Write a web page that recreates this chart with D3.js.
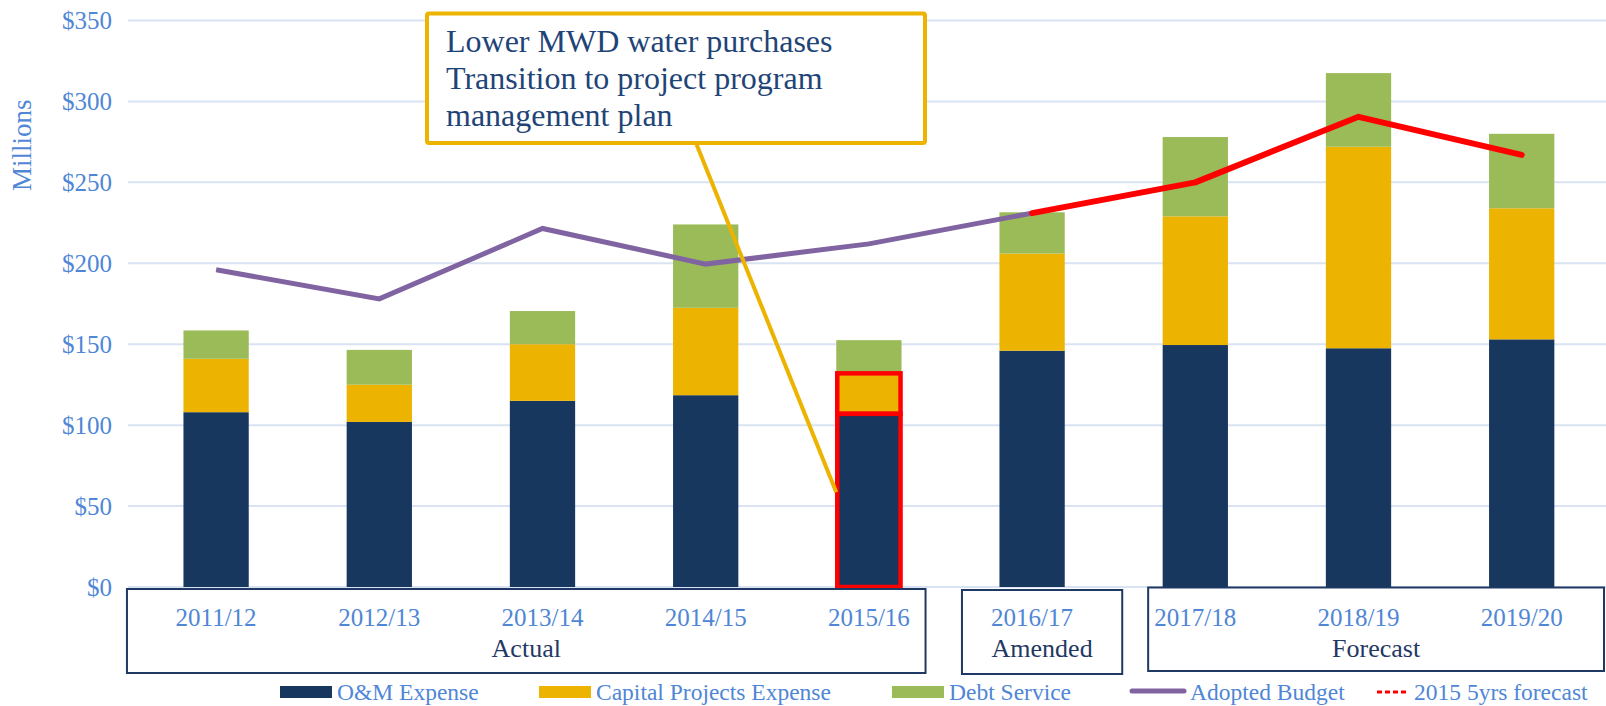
<!DOCTYPE html>
<html>
<head>
<meta charset="utf-8">
<script src="https://cdn.jsdelivr.net/npm/d3@7/dist/d3.min.js"></script>
<style>
  html, body { margin: 0; padding: 0; background: #fff; }
  svg { display: block; font-family: "Liberation Serif", "Times New Roman", serif; }
</style>
</head>
<body>
<svg id="chart" width="1606" height="706"></svg>
<script>
// data ($ millions)
const years = ['2011/12', '2012/13', '2013/14', '2014/15', '2015/16', '2016/17', '2017/18', '2018/19', '2019/20'];
const omExpense = [108, 102, 115, 118.5, 107, 146, 149.5, 147.5, 153];
const capitalExpense = [33, 23, 35, 54, 25, 60, 79.5, 124.5, 81];
const debtService = [17.5, 21.5, 20.5, 51.5, 20.5, 25.5, 49, 45.5, 46];
const adoptedBudget = [196, 178, 221.5, 199.5, 212, 231, null, null, null];
const forecast2015 = [null, null, null, null, null, 231, 250, 290.5, 267];
const yTicks = [0, 50, 100, 150, 200, 250, 300, 350];
const groups = [
    { label: 'Actual', first: 0, last: 4 },
    { label: 'Amended', first: 5, last: 5 },
    { label: 'Forecast', first: 6, last: 8 }
];
const seriesNames = ['O&M Expense', 'Capital Projects Expense', 'Debt Service'];

const colors = {
    om: '#17375e',
    capital: '#ecb400',
    debt: '#9bbb59',
    budget: '#8064a2',
    forecast: '#ff0000',
    tick: '#4f86d6',
    grid: '#d9e3f3',
    navy: '#1f3864'
};

const svg = d3.select('#chart');

const x = d3.scaleBand().domain(years).range([134.5, 1603.3]).paddingInner(0.6).paddingOuter(0.3);
const y = d3.scaleLinear().domain([0, 350]).range([587, 20.5]);

// gridlines + tick labels
svg.append('g').selectAll('line').data(yTicks).join('line')
    .attr('x1', 128).attr('x2', 1606)
    .attr('y1', d => y(d)).attr('y2', d => y(d))
    .attr('stroke', colors.grid).attr('stroke-width', 2);

svg.append('g').selectAll('text').data(yTicks).join('text')
    .attr('x', 112).attr('y', d => y(d))
    .attr('dy', '0.35em')
    .attr('text-anchor', 'end')
    .attr('fill', colors.tick)
    .style('font-size', '25px')
    .text(d => '$' + d);

svg.append('text')
    .attr('transform', `translate(31, ${y(273)}) rotate(-90)`)
    .attr('text-anchor', 'middle')
    .attr('fill', colors.tick)
    .style('font-size', '27px')
    .text('Millions');

// stacked bars
const rows = years.map((yr, i) => ({ year: yr, om: omExpense[i], capital: capitalExpense[i], debt: debtService[i] }));
const stack = d3.stack().keys(['om', 'capital', 'debt'])(rows);

svg.append('g').selectAll('g').data(stack).join('g')
    .attr('fill', d => colors[d.key])
    .selectAll('rect').data(d => d).join('rect')
    .attr('x', d => x(d.data.year))
    .attr('y', d => y(d[1]))
    .attr('width', x.bandwidth())
    .attr('height', d => y(d[0]) - y(d[1]));

// 2015/16 highlight of O&M + Capital
const hl = rows[4];
svg.append('g').selectAll('rect').data([[0, hl.om], [hl.om, hl.om + hl.capital]]).join('rect')
    .attr('x', x(hl.year) + 1)
    .attr('y', d => y(d[1]))
    .attr('width', x.bandwidth() - 2)
    .attr('height', d => y(d[0]) - y(d[1]))
    .attr('fill', 'none')
    .attr('stroke', colors.forecast)
    .attr('stroke-width', 4.5);

// lines
const cx = d => x(d) + x.bandwidth() / 2;
const line = d3.line().defined(d => d[1] != null).x(d => cx(d[0])).y(d => y(d[1]));

svg.append('path')
    .datum(years.map((yr, i) => [yr, adoptedBudget[i]]))
    .attr('d', line)
    .attr('fill', 'none')
    .attr('stroke', colors.budget)
    .attr('stroke-width', 5);

svg.append('path')
    .datum(years.map((yr, i) => [yr, forecast2015[i]]))
    .attr('d', line)
    .attr('fill', 'none')
    .attr('stroke', colors.forecast)
    .attr('stroke-width', 6)
    .attr('stroke-linecap', 'round')
    .attr('stroke-linejoin', 'round');

// category labels
svg.append('g').selectAll('text').data(years).join('text')
    .attr('x', d => cx(d))
    .attr('y', 626)
    .attr('text-anchor', 'middle')
    .attr('fill', colors.tick)
    .style('font-size', '25px')
    .text(d => d);

// group boxes (hand-placed in the original)
const boxPad = [[-56.5, 24], [-37.5, 57.5], [-14.5, 0]];
const boxY = [[589, 673], [590, 674], [587.5, 671]];
groups.forEach((g, i) => {
    const x0 = x(years[g.first]) + boxPad[i][0];
    const x1 = i === 2 ? 1604 : x(years[g.last]) + x.bandwidth() + boxPad[i][1];
    svg.append('rect')
        .attr('x', x0).attr('y', boxY[i][0])
        .attr('width', x1 - x0).attr('height', boxY[i][1] - boxY[i][0])
        .attr('fill', 'none')
        .attr('stroke', colors.navy)
        .attr('stroke-width', 2);
    svg.append('text')
        .attr('x', (x0 + x1) / 2)
        .attr('y', 657)
        .attr('text-anchor', 'middle')
        .attr('fill', colors.navy)
        .style('font-size', '26px')
        .text(g.label);
});

// callout
svg.append('line')
    .attr('x1', 696).attr('y1', 143)
    .attr('x2', x(hl.year)).attr('y2', y(58.5))
    .attr('stroke', colors.capital)
    .attr('stroke-width', 4);
svg.append('rect')
    .attr('x', 427).attr('y', 13.5)
    .attr('width', 498).attr('height', 129.5)
    .attr('fill', '#fff')
    .attr('stroke', colors.capital)
    .attr('stroke-width', 4)
    .attr('rx', 2);
svg.append('text')
    .attr('fill', '#1f4477')
    .style('font-size', '32px')
    .selectAll('tspan')
    .data(['Lower MWD water purchases', 'Transition to project program', 'management plan'])
    .join('tspan')
    .attr('x', 446)
    .attr('y', (d, i) => 52 + i * 37)
    .text(d => d);

// legend
const legend = svg.append('g').style('font-size', '23.5px').attr('fill', colors.tick);
const swatchX = [280, 539, 892];
seriesNames.forEach((name, i) => {
    legend.append('rect')
        .attr('x', swatchX[i]).attr('y', 686)
        .attr('width', 52).attr('height', 12)
        .attr('fill', colors[['om', 'capital', 'debt'][i]]);
    legend.append('text')
        .attr('x', swatchX[i] + 57).attr('y', 700)
        .text(name);
});
legend.append('line')
    .attr('x1', 1132).attr('x2', 1184).attr('y1', 691).attr('y2', 691)
    .attr('stroke', colors.budget).attr('stroke-width', 5).attr('stroke-linecap', 'round');
legend.append('text').attr('x', 1190).attr('y', 700).text('Adopted Budget');
legend.append('line')
    .attr('x1', 1377).attr('x2', 1407).attr('y1', 692).attr('y2', 692)
    .attr('stroke', colors.forecast).attr('stroke-width', 3).attr('stroke-dasharray', '5,3');
legend.append('text').attr('x', 1414).attr('y', 700).text('2015 5yrs forecast');
</script>
</body>
</html>
